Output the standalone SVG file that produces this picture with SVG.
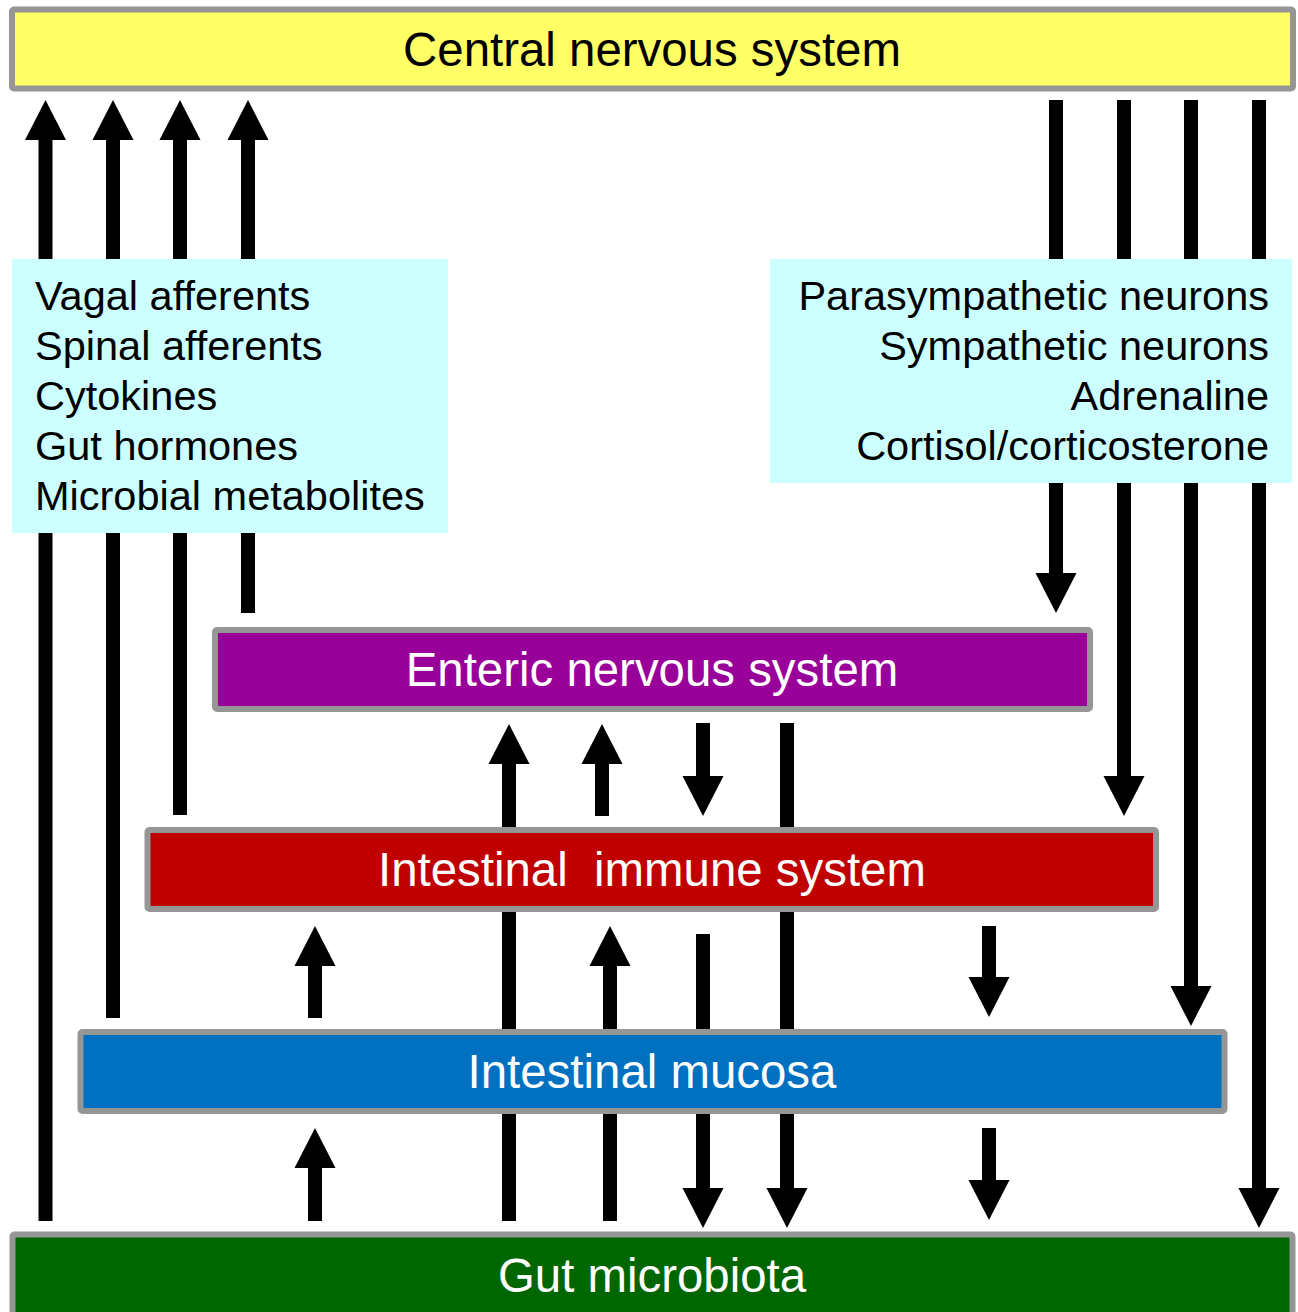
<svg xmlns="http://www.w3.org/2000/svg" width="1298" height="1312" viewBox="0 0 1298 1312">
<style>
  .box { stroke: #969696; stroke-width: 6; }
  .lbl { font-family: "Liberation Sans", Arial, sans-serif; font-size: 47.4px; text-anchor: middle; }
  .list { font-family: "Liberation Sans", Arial, sans-serif; font-size: 41.5px; fill: #000; }
  .arr { stroke: #000; stroke-width: 14; fill: none; stroke-linecap: butt; marker-end: url(#head); }
</style>
<defs>
  <marker id="head" markerUnits="userSpaceOnUse" markerWidth="40" markerHeight="41" refX="0" refY="20.5" orient="auto" overflow="visible">
    <path d="M0,0 L40,20.5 L0,41 Z" fill="#000"/>
  </marker>
</defs>
<rect width="1298" height="1312" fill="#fff"/>

<g id="connectors">
  <!-- upward to CNS -->
  <line class="arr" x1="45.5" y1="1221" x2="45.5" y2="140"/>
  <line class="arr" x1="113" y1="1018" x2="113" y2="140"/>
  <line class="arr" x1="180" y1="815" x2="180" y2="140"/>
  <line class="arr" x1="248" y1="613" x2="248" y2="140"/>
  <!-- downward from CNS -->
  <line class="arr" x1="1056" y1="100" x2="1056" y2="573"/>
  <line class="arr" x1="1124" y1="100" x2="1124" y2="776"/>
  <line class="arr" x1="1191" y1="100" x2="1191" y2="986"/>
  <line class="arr" x1="1259" y1="100" x2="1259" y2="1188"/>
  <!-- to ENS -->
  <line class="arr" x1="509" y1="1221" x2="509" y2="764"/>
  <line class="arr" x1="602" y1="816" x2="602" y2="764"/>
  <!-- from ENS -->
  <line class="arr" x1="703" y1="723" x2="703" y2="776"/>
  <line class="arr" x1="787" y1="723" x2="787" y2="1188"/>
  <!-- to immune -->
  <line class="arr" x1="315" y1="1018" x2="315" y2="966"/>
  <line class="arr" x1="610" y1="1221" x2="610" y2="966"/>
  <!-- from immune -->
  <line class="arr" x1="703" y1="934" x2="703" y2="1188"/>
  <line class="arr" x1="989" y1="926" x2="989" y2="977"/>
  <!-- mucosa/microbiota -->
  <line class="arr" x1="315" y1="1221" x2="315" y2="1168"/>
  <line class="arr" x1="989" y1="1128" x2="989" y2="1180"/>
</g>

<g id="cns">
  <rect class="box" x="12" y="9.5" width="1281" height="79" rx="2" fill="#FFFF66"/>
  <text class="lbl" x="652" y="66" fill="#000">Central nervous system</text>
</g>

<g id="afferent-signals">
  <rect x="12" y="259" width="436" height="274" fill="#CCFFFF"/>
  <text class="list" x="35" y="309.5">Vagal afferents</text>
  <text class="list" x="35" y="359.5">Spinal afferents</text>
  <text class="list" x="35" y="409.5">Cytokines</text>
  <text class="list" x="35" y="459.5">Gut hormones</text>
  <text class="list" x="35" y="509.5">Microbial metabolites</text>
</g>

<g id="efferent-signals">
  <rect x="770" y="259" width="522" height="224" fill="#CCFFFF"/>
  <text class="list" x="1269" y="309.5" text-anchor="end">Parasympathetic neurons</text>
  <text class="list" x="1269" y="359.5" text-anchor="end">Sympathetic neurons</text>
  <text class="list" x="1269" y="409.5" text-anchor="end">Adrenaline</text>
  <text class="list" x="1269" y="459.5" text-anchor="end">Cortisol/corticosterone</text>
</g>

<g id="ens">
  <rect class="box" x="215" y="630" width="875" height="79" rx="2" fill="#990099"/>
  <text class="lbl" x="652" y="686" fill="#fff">Enteric nervous system</text>
</g>

<g id="immune">
  <rect class="box" x="147.5" y="830" width="1008.5" height="79" rx="2" fill="#C00000"/>
  <text class="lbl" x="652" y="886" fill="#fff" xml:space="preserve" style="white-space:pre">Intestinal  immune system</text>
</g>

<g id="mucosa">
  <rect class="box" x="80.5" y="1032" width="1144" height="79" rx="2" fill="#0070C0"/>
  <text class="lbl" x="652" y="1088" fill="#fff">Intestinal mucosa</text>
</g>

<g id="microbiota">
  <rect class="box" x="12.5" y="1234.5" width="1280" height="85" rx="2" fill="#006600"/>
  <text class="lbl" x="652" y="1292" fill="#fff">Gut microbiota</text>
</g>
</svg>
